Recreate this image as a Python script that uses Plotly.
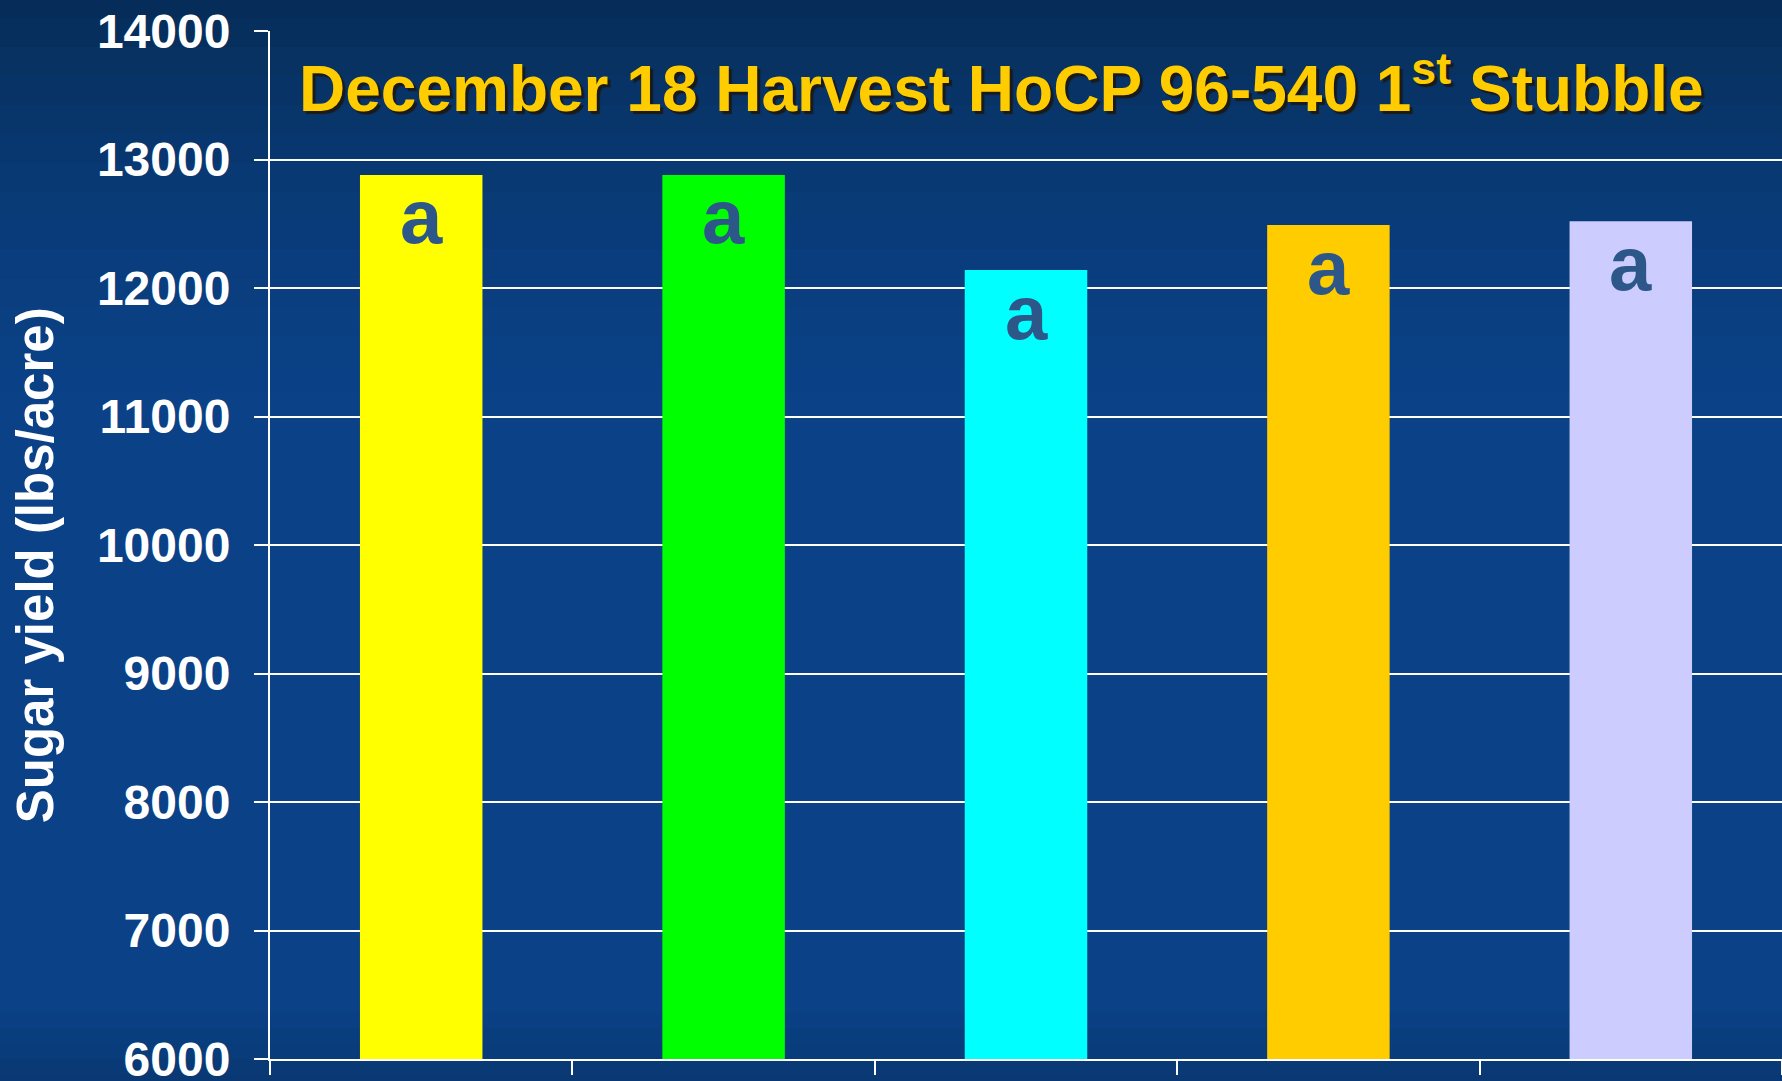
import plotly.graph_objects as go

# data
treatments = ["T1", "T2", "T3", "T4", "T5"]
sugar_yield = [12880, 12880, 12140, 12490, 12520]
letters = ["a", "a", "a", "a", "a"]
bar_colors = ["#FFFF00", "#00FF00", "#00FFFF", "#FFCC00", "#CCCCFF"]
y_ticks = [6000, 7000, 8000, 9000, 10000, 11000, 12000, 13000, 14000]

BG = "#0b4287"
FONT = "Liberation Sans, Arial, sans-serif"

fig = go.Figure()
fig.add_trace(
    go.Bar(
        x=treatments,
        y=sugar_yield,
        marker=dict(color=bar_colors, line=dict(width=0)),
        showlegend=False,
        hoverinfo="x+y",
    )
)

for t, v, s in zip(treatments, sugar_yield, letters):
    fig.add_annotation(
        x=t, y=v, text=s, showarrow=False,
        yanchor="middle", yshift=-42,
        font=dict(family=FONT, size=76, color="#2d5788", weight="bold"),
    )

fig.add_annotation(
    xref="paper", yref="paper", x=0.018, y=0.948,
    xanchor="left", yanchor="middle", showarrow=False,
    text="December 18 Harvest HoCP 96-540 1<sup>st</sup> Stubble",
    font=dict(family=FONT, size=64, color="#FFCC00", weight="bold",
              shadow="3px 3px 1px #1a1a1a"),
)

# y axis title, placed by hand to sit where the slide has it
fig.add_annotation(
    xref="paper", yref="paper", x=-0.155, y=0.48,
    xanchor="center", yanchor="middle", showarrow=False, textangle=-90,
    text="Sugar yield (lbs/acre)",
    font=dict(family=FONT, size=51, color="white", weight="bold"),
)

# darker band at the top of the slide background, faded in steps
n_steps = 14
for i in range(n_steps):
    fig.add_shape(
        type="rect", xref="paper", yref="paper", layer="below",
        x0=-0.2, x1=1.05,
        y0=1.04 - (i + 1) * 0.028, y1=1.04 - i * 0.028,
        fillcolor="#031d33", opacity=0.55 * (1 - i / n_steps) ** 1.5,
        line=dict(width=0),
    )
# slightly darker strip along the bottom
for i in range(5):
    fig.add_shape(
        type="rect", xref="paper", yref="paper", layer="below",
        x0=-0.2, x1=1.05,
        y0=-0.03 + i * 0.015, y1=-0.03 + (i + 1) * 0.015,
        fillcolor="#031d33", opacity=0.25 * (1 - i / 5),
        line=dict(width=0),
    )

fig.update_layout(
    width=1782, height=1081,
    paper_bgcolor=BG, plot_bgcolor="rgba(0,0,0,0)",
    margin=dict(l=270, r=0, t=31, b=22),
    bargap=0.595,
    font=dict(family=FONT, color="white"),
    xaxis=dict(
        showticklabels=False, ticks="outside", ticklen=14, tickwidth=2,
        tickcolor="white", tickson="boundaries",
        showline=True, linecolor="white", linewidth=2,
        showgrid=False, automargin=False,
    ),
    yaxis=dict(
        range=[6000, 14000], tickvals=y_ticks, tickformat="d",
        ticks="outside", ticklen=14, tickwidth=2, tickcolor="white",
        ticklabelstandoff=14, ticklabeloverflow="allow",
        tickfont=dict(family=FONT, size=48, color="white", weight="bold"),
        showline=True, linecolor="white", linewidth=2,
        showgrid=True, gridcolor="white", gridwidth=2,
        zeroline=False, automargin=False,
    ),
)

fig.write_html(
    "out.html",
    config={"displayModeBar": False},
    post_script="document.body.style.margin='0';document.body.style.background='" + BG + "';",
)
